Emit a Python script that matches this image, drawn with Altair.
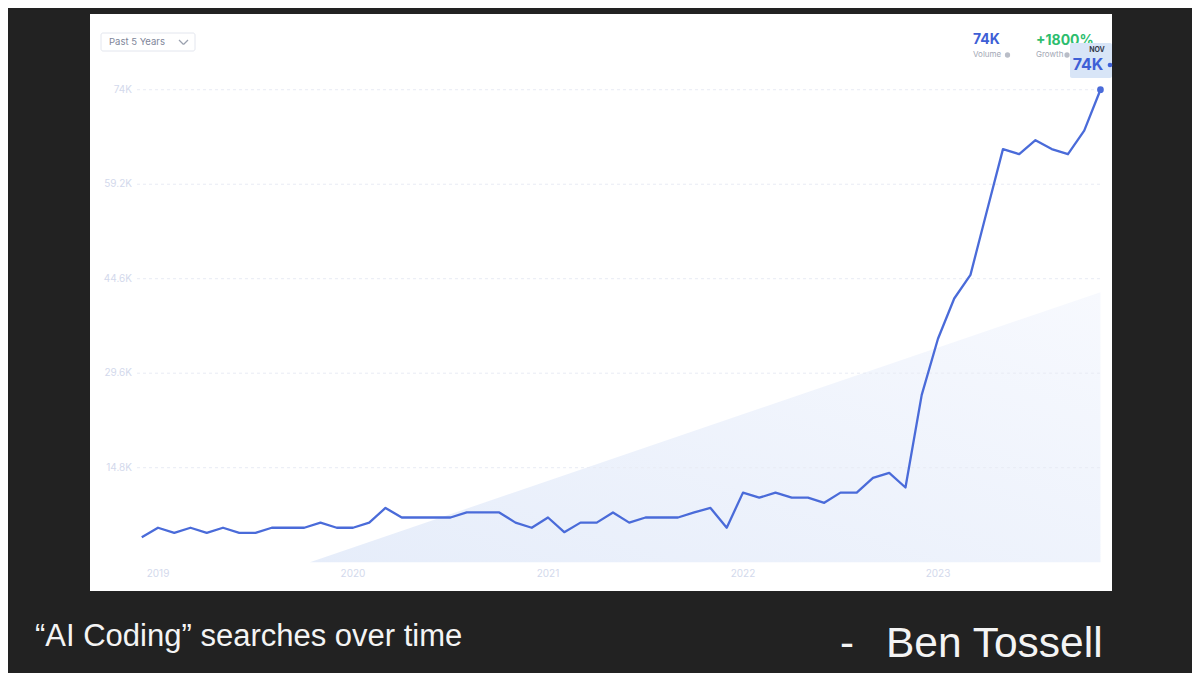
import altair as alt
import pandas as pd

# ---- data ----
months = [f"{y}-{m:02d}" for y, m in
          [(2018, 12)] + [(yy, mm) for yy in range(2019, 2024) for mm in range(1, 13)]][:60]

searches_k = [3.9, 5.4, 4.6, 5.4, 4.6, 5.4, 4.6, 4.6, 5.4, 5.4,
              5.4, 6.2, 5.4, 5.4, 6.2, 8.5, 7.0, 7.0, 7.0, 7.0,
              7.8, 7.8, 7.8, 6.2, 5.4, 7.0, 4.7, 6.2, 6.2, 7.8,
              6.2, 7.0, 7.0, 7.0, 7.8, 8.5, 5.4, 10.9, 10.1, 10.9,
              10.1, 10.1, 9.3, 10.9, 10.9, 13.2, 14.0, 11.7, 26.2, 35.0,
              41.3, 45.0, 54.9, 64.7, 63.9, 66.1, 64.7, 63.9, 67.6, 74.0]

y_tick_values = [14800, 29600, 44400, 59200, 74000]
y_tick_labels = ["14.8K", "29.6K", "44.6K", "59.2K", "74K"]

year_labels = ["2019", "2020", "2021", "2022", "2023"]
year_months = ["2019-01", "2020-01", "2021-01", "2022-01", "2023-01"]

trend_idx = [10.35, 59.0]
trend_vals = [0, 42300]

caption = "\u201cAI Coding\u201d searches over time"
author = "Ben Tossell"

# ---- tables ----
df = pd.DataFrame({"idx": list(range(len(months))), "month": months,
                   "searches": [v * 1000 for v in searches_k]})
year_df = pd.DataFrame({"yi": [months.index(m) for m in year_months], "year": year_labels})
grid_df = pd.DataFrame({"v": y_tick_values, "label": y_tick_labels})
trend_df = pd.DataFrame({"ti": trend_idx, "tv": trend_vals})
one = pd.DataFrame({"a": [0]})

xs = alt.Scale(domain=[-3.185, 59.71], nice=False, zero=False)
ys = alt.Scale(domain=[-4510, 85860], nice=False, zero=False)

lab_color = "#d3d9ec"
ui_font = "Inter"

trend = alt.Chart(trend_df).mark_area(
    color=alt.Gradient(gradient="linear",
                       stops=[alt.GradientStop(color="#e6edfa", offset=0),
                              alt.GradientStop(color="#f7f9fe", offset=1)],
                       x1=0, y1=1, x2=1, y2=0)
).encode(
    x=alt.X("ti:Q", scale=xs, axis=None),
    y=alt.Y("tv:Q", scale=ys, axis=None),
    y2=alt.datum(0),
)

grid = alt.Chart(grid_df).mark_rule(color="#e8ebf4", strokeWidth=1, strokeDash=[3, 3]).encode(
    y=alt.Y("v:Q", scale=ys, axis=None),
    x=alt.value(47), x2=alt.value(1012),
)

y_labels = alt.Chart(grid_df).mark_text(align="right", baseline="middle", fontSize=10,
                                        font=ui_font, color=lab_color).encode(
    y=alt.Y("v:Q", scale=ys, axis=None),
    x=alt.value(42),
    text="label:N",
)

x_labels = alt.Chart(year_df).mark_text(align="center", baseline="middle", fontSize=10,
                                        font=ui_font, color=lab_color).encode(
    x=alt.X("yi:Q", scale=xs, axis=None),
    y=alt.value(560),
    text="year:N",
)

line = alt.Chart(df).mark_line(color="#4a6bd9", strokeWidth=2.3, strokeJoin="round").encode(
    x=alt.X("idx:Q", scale=xs, axis=None),
    y=alt.Y("searches:Q", scale=ys, axis=None),
)

last_dot = alt.Chart(df).transform_filter(f"datum.idx == {len(months) - 1}").mark_circle(
    color="#4a6bd9", size=45, opacity=1
).encode(x=alt.X("idx:Q", scale=xs, axis=None), y=alt.Y("searches:Q", scale=ys, axis=None))


def txt(text, x, y, size, color, weight="normal", align="left", font=ui_font, baseline="middle"):
    return alt.Chart(one).mark_text(text=text, fontSize=size, color=color, fontWeight=weight,
                                    align=align, font=font, baseline=baseline).encode(
        x=alt.value(x), y=alt.value(y))


def box(x, x2, y, y2, fill, stroke=None):
    kw = dict(fill=fill, cornerRadius=2)
    if stroke:
        kw.update(stroke=stroke, strokeWidth=1)
    return alt.Chart(one).mark_rect(**kw).encode(
        x=alt.value(x), x2=alt.value(x2), y=alt.value(y), y2=alt.value(y2))


def seg(x, x2, y, y2, color):
    return alt.Chart(one).mark_rule(color=color, strokeWidth=1.2).encode(
        x=alt.value(x), x2=alt.value(x2), y=alt.value(y), y2=alt.value(y2))


def dot(x, y, size, color):
    return alt.Chart(one).mark_circle(color=color, size=size, opacity=1).encode(
        x=alt.value(x), y=alt.value(y))


layers = [
    trend, grid, y_labels, x_labels, line, last_dot,
    # dropdown
    box(11, 105, 19, 37, "#ffffff", "#e3e6ee"),
    txt("Past 5 Years", 19, 28, 9.5, "#80869a"),
    seg(89, 93.5, 26, 30.5, "#9aa0ae"),
    seg(93.5, 98, 30.5, 26, "#9aa0ae"),
    # stats
    txt("74K", 883, 26, 14, "#3e5fd6", "bold"),
    txt("Volume", 883, 41, 8, "#a3a8b5"),
    dot(917.5, 41, 28, "#b9bdc7"),
    txt("+1800%", 946, 27, 14, "#2dbd6e", "bold"),
    txt("Growth", 946, 41, 8, "#a3a8b5"),
    dot(977, 41, 28, "#b9bdc7"),
    # tooltip
    box(980, 1022, 29, 64, "#d8e5f7"),
    txt("NOV", 1007, 36, 7, "#333a4d", "bold", "center"),
    txt("74K", 998, 51, 16, "#3e5fd6", "bold", "center"),
    dot(1020, 51, 22, "#3e5fd6"),
    # caption
    txt(caption, -55, 632, 31, "#f4f4f4", font="Liberation Sans", baseline="alphabetic"),
    txt("-", 750, 642.5, 42, "#f4f4f4", font="Liberation Sans", baseline="alphabetic"),
    txt(author, 796, 642.5, 42.5, "#f4f4f4", font="Liberation Sans", baseline="alphabetic"),
]

chart = alt.layer(*layers).properties(
    width=1022, height=577,
    padding={"left": 82, "top": 6, "right": 80, "bottom": 82},
    autosize=alt.AutoSizeParams(type="none"),
    background="#222222",
).configure_view(fill="#ffffff", strokeWidth=0)

chart.save("out.html", embed_options={"renderer": "svg", "actions": False})
